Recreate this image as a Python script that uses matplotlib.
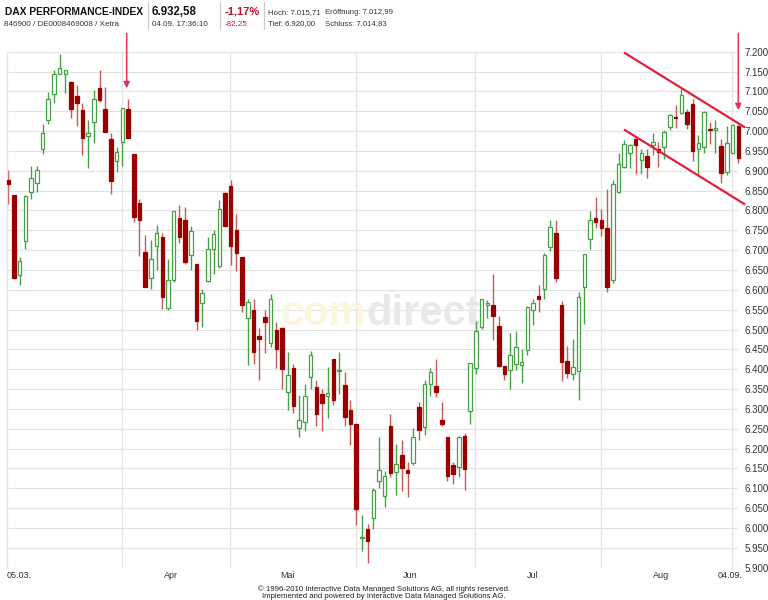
import matplotlib
matplotlib.use("Agg")
import matplotlib.pyplot as plt
from matplotlib.transforms import blended_transform_factory
import numpy as np

plt.rcParams['font.family'] = ['Liberation Sans', 'DejaVu Sans']

# ---------------- data ----------------
opens = [6878, 6838, 6637, 6722, 6847, 6868, 6956, 7029, 7093, 7145,
         7145, 7123, 7089, 7053, 6987, 7024, 7108, 7055, 6981, 6925,
         6973, 7055, 6942, 6818, 6695, 6629, 6710, 6732, 6555, 6626,
         6780, 6776, 6689, 6666, 6566, 6623, 6702, 6661, 6845, 6861,
         6750, 6683, 6530, 6549, 6483, 6532, 6465, 6500, 6503, 6343,
         6402, 6253, 6267, 6381, 6354, 6337, 6333, 6425, 6395, 6360,
         6298, 6261, 5976, 5998, 6026, 6118, 6081, 6256, 6141, 6185,
         6147, 6165, 6305, 6255, 6364, 6357, 6273, 6229, 6158, 6154,
         6231, 6295, 6404, 6507, 6563, 6561, 6508, 6408, 6397, 6413,
         6410, 6448, 6550, 6584, 6601, 6708, 6742, 6563, 6421, 6389,
         6395, 6606, 6728, 6782, 6776, 6757, 6625, 6847, 6910, 6944,
         6979, 6927, 6937, 6965, 6954, 6959, 7011, 7036, 7045, 7049,
         7068, 6956, 6959, 7005, 7002, 6962, 6897, 6945, 7013]
highs = [6902, 6840, 6683, 6840, 6912, 6912, 7019, 7099, 7155, 7194,
         7155, 7127, 7116, 7070, 7028, 7103, 7154, 7112, 6994, 6961,
         7057, 7082, 6942, 6830, 6738, 6725, 6763, 6744, 6677, 6799,
         6813, 6808, 6761, 6666, 6603, 6734, 6752, 6826, 6847, 6876,
         6791, 6683, 6578, 6578, 6505, 6549, 6589, 6519, 6507, 6444,
         6412, 6335, 6364, 6445, 6374, 6351, 6406, 6427, 6444, 6393,
         6322, 6261, 6032, 6011, 6102, 6229, 6144, 6288, 6211, 6221,
         6166, 6252, 6318, 6374, 6402, 6427, 6318, 6229, 6166, 6231,
         6239, 6416, 6521, 6576, 6574, 6641, 6534, 6408, 6492, 6497,
         6450, 6559, 6578, 6612, 6692, 6776, 6776, 6571, 6458, 6475,
         6595, 6690, 6798, 6834, 6803, 6855, 6876, 6944, 6977, 6967,
         6984, 6956, 6954, 6994, 6973, 7002, 7044, 7065, 7105, 7055,
         7080, 6990, 7051, 7023, 7029, 6979, 7013, 7018, 7016]
lows = [6816, 6628, 6613, 6703, 6830, 6847, 6942, 7019, 7072, 7145,
        7095, 7032, 7013, 6940, 6908, 6971, 7074, 6998, 6841, 6898,
        6912, 6982, 6771, 6685, 6606, 6603, 6651, 6553, 6550, 6620,
        6717, 6666, 6651, 6500, 6507, 6620, 6641, 6654, 6759, 6662,
        6648, 6545, 6410, 6414, 6374, 6440, 6455, 6402, 6351, 6297,
        6290, 6230, 6245, 6351, 6256, 6245, 6278, 6309, 6337, 6256,
        6208, 6007, 5942, 5912, 5998, 6102, 6053, 6128, 6082, 6093,
        6078, 6158, 6221, 6234, 6332, 6330, 6256, 6118, 6112, 6128,
        6097, 6261, 6389, 6502, 6528, 6474, 6405, 6374, 6349, 6399,
        6365, 6435, 6511, 6545, 6578, 6698, 6620, 6371, 6378, 6372,
        6323, 6513, 6704, 6757, 6735, 6595, 6618, 6845, 6906, 6908,
        6891, 6891, 6883, 6939, 6910, 6929, 7002, 7009, 7043, 7004,
        6925, 6889, 6945, 6967, 6945, 6870, 6889, 6944, 6920]
closes = [6866, 6631, 6673, 6836, 6881, 6902, 6996, 7080, 7145, 7158,
          7154, 7055, 7071, 6982, 6996, 7080, 7078, 6998, 6875, 6948,
          7057, 6982, 6784, 6776, 6606, 6677, 6744, 6582, 6624, 6799,
          6732, 6671, 6749, 6522, 6591, 6704, 6740, 6803, 6761, 6710,
          6693, 6563, 6570, 6444, 6475, 6518, 6578, 6452, 6400, 6385,
          6308, 6271, 6332, 6435, 6286, 6316, 6339, 6322, 6398, 6280,
          6261, 6049, 5978, 5968, 6095, 6145, 6130, 6139, 6162, 6151,
          6139, 6229, 6248, 6364, 6392, 6343, 6263, 6131, 6137, 6229,
          6149, 6416, 6496, 6576, 6566, 6535, 6408, 6389, 6437, 6455,
          6418, 6557, 6566, 6576, 6687, 6759, 6630, 6418, 6391, 6406,
          6582, 6690, 6776, 6771, 6755, 6606, 6866, 6918, 6967, 6965,
          6965, 6944, 6910, 6973, 6948, 6998, 7040, 7033, 7091, 7018,
          6950, 6970, 7049, 7002, 7009, 6895, 6969, 7015, 6933]

month_labels = ["Apr", "Mai", "Jun", "Jul", "Aug"]
month_start_idx = [20, 39, 61, 82, 104, 127]   # first trading day of Apr..Sep
first_date_label = "05.03."
last_date_label = "04.09."
y_ticks = list(range(5900, 7201, 50))

# annotations: trend channel and arrows (index, value)
upper_channel = ([107.96, 129.2], [7198, 7009])
lower_channel = ([107.96, 129.2], [7004, 6815])
arrow_points = [(20.76, 7108), (128.0, 7053)]

header_title = "DAX PERFORMANCE-INDEX"
header_id = "846900 / DE0008469008 / Xetra"
header_price = "6.932,58"
header_time = "04.09. 17:36:10"
header_pct = "-1,17%"
header_chg = "-82,25"
header_hoch = "Hoch: 7.015,71"
header_tief = "Tief: 6.920,00"
header_eroeff = "Eröffnung: 7.012,99"
header_schluss = "Schluss: 7.014,83"
footer1 = "© 1996-2010 Interactive Data Managed Solutions AG, all rights reserved."
footer2 = "Implemented and powered by Interactive Data Managed Solutions AG."

# ---------------- figure ----------------
W, H = 768, 600
fig = plt.figure(figsize=(W / 100, H / 100), dpi=100)
fig.patch.set_facecolor('white')

def fx(x):
    return x / W

def fy(y):
    return 1 - y / H

left_px, right_px, top_px, bot_px = 7.16, 738.3, 51.7, 567.7
ax = fig.add_axes([fx(left_px), fy(bot_px), fx(right_px - left_px), (bot_px - top_px) / H])

n = len(opens)
idx = np.arange(n)
o = np.array(opens, float)
h = np.array(highs, float)
l = np.array(lows, float)
c = np.array(closes, float)
up = c >= o

ax.set_xlim(-0.2, n - 1)
ax.set_ylim(5900, 7200)

grid_col = '#e4e4e4'
for v in y_ticks:
    ax.axhline(v, color=grid_col, lw=0.9, zorder=0.5)
for m in month_start_idx:
    ax.axvline(m - 0.1, color=grid_col, lw=0.9, zorder=0.5)
ax.axvline(n - 1, color=grid_col, lw=0.9, zorder=0.5)

for s in ['top', 'right', 'bottom']:
    ax.spines[s].set_visible(False)
ax.spines['left'].set_color(grid_col)
ax.spines['left'].set_linewidth(0.9)

ax.set_xticks([])
ax.yaxis.tick_right()
ax.set_yticks(y_ticks)
ax.set_yticklabels([f"{v:,}".replace(",", ".") for v in y_ticks])
ax.tick_params(axis='y', length=0, pad=4.3, labelsize=7, labelcolor='#333333')

# watermark
ax.text(fx(366), fy(325), "com", transform=fig.transFigure, fontsize=30,
        fontweight='bold', color='#fdf6de', ha='right', va='baseline', zorder=0.6)
ax.text(fx(366), fy(325), "direct", transform=fig.transFigure, fontsize=30,
        fontweight='bold', color='#e9e9e9', ha='left', va='baseline', zorder=0.6)

# candles
green = '#46a046'
red_body = '#9a0000'
red_wick = '#c65a5a'
wick_cols = [green if u else red_wick for u in up]
ax.vlines(idx, l, h, colors=wick_cols, lw=1.0, zorder=2, clip_on=False)
bottoms = np.minimum(o, c)
heights = np.maximum(np.abs(c - o), 0.8)
ax.bar(idx[up], heights[up], bottom=bottoms[up], width=0.62, facecolor='white',
       edgecolor=green, linewidth=0.9, zorder=3, clip_on=False)
ax.bar(idx[~up], heights[~up], bottom=bottoms[~up], width=0.62, facecolor=red_body,
       edgecolor=red_body, linewidth=0.9, zorder=3, clip_on=False)

# trend channel
line_col = '#e2203c'
for xs, ys in (upper_channel, lower_channel):
    ax.plot(xs, ys, color=line_col, lw=1.6, zorder=4, clip_on=False,
            solid_capstyle='butt')

# arrows
arrow_col = '#e8315a'
top_val = 7200 + (top_px - 33.3) * (1300 / (bot_px - top_px))
for xa, ya in arrow_points:
    ax.annotate('', xy=(xa, ya), xytext=(xa, top_val),
                arrowprops=dict(arrowstyle='-|>', color=arrow_col, lw=1.1,
                                mutation_scale=9, shrinkA=0, shrinkB=0),
                annotation_clip=False, zorder=5)

# x labels
tr = blended_transform_factory(ax.transData, fig.transFigure)
ylab = fy(575)
ax.text(-0.28, ylab, first_date_label, transform=tr, ha='left', va='center',
        fontsize=6.5, color='#333333')
ax.text(n - 1 + 0.8, ylab, last_date_label, transform=tr, ha='right', va='center',
        fontsize=6.5, color='#333333')
for i, lab in enumerate(month_labels):
    pos = (month_start_idx[i] + month_start_idx[i + 1]) / 2 - 1.0
    ax.text(pos, ylab, lab, transform=tr, ha='center', va='center',
            fontsize=6.5, color='#333333')

# header
fig.text(fx(5), fy(12), header_title, fontsize=7.4, fontweight='bold',
         ha='left', va='center', color='#111111')
fig.text(fx(4), fy(24), header_id, fontsize=5.8, ha='left', va='center', color='#333333')
fig.text(fx(152), fy(12), header_price, fontsize=8.3, fontweight='bold',
         ha='left', va='center', color='#111111')
fig.text(fx(152), fy(24), header_time, fontsize=5.8, ha='left', va='center', color='#333333')
fig.text(fx(225), fy(12), header_pct, fontsize=8.0, fontweight='bold',
         ha='left', va='center', color='#c0102a')
fig.text(fx(225), fy(24), header_chg, fontsize=5.8, ha='left', va='center', color='#c0102a')
fig.text(fx(268), fy(12.5), header_hoch, fontsize=5.6, ha='left', va='center', color='#333333')
fig.text(fx(325), fy(12.5), header_eroeff, fontsize=5.6, ha='left', va='center', color='#333333')
fig.text(fx(268), fy(24), header_tief, fontsize=5.6, ha='left', va='center', color='#333333')
fig.text(fx(325), fy(24), header_schluss, fontsize=5.6, ha='left', va='center', color='#333333')
for xs in (148.3, 220, 263.5):
    fig.add_artist(plt.Line2D([fx(xs), fx(xs)], [fy(2), fy(29)], color='#cccccc', lw=0.9,
                              transform=fig.transFigure))

# footer
fig.text(0.5, fy(589), footer1, fontsize=5.6, ha='center', va='center', color='#222222')
fig.text(0.5, fy(597), footer2, fontsize=5.6, ha='center', va='center', color='#222222')

fig.savefig('out.png', dpi=100, facecolor='white')
